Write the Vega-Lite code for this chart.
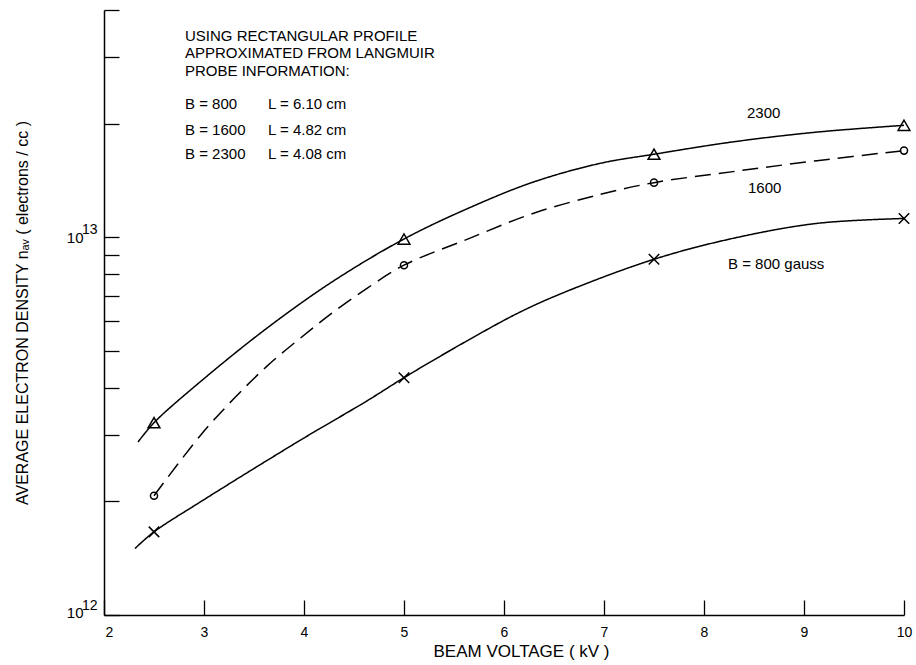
{
  "$schema": "https://vega.github.io/schema/vega-lite/v6.json",
  "width": 800,
  "height": 605,
  "autosize": {"type": "none"},
  "padding": {"left": 104, "top": 10, "right": 12, "bottom": 50},
  "background": "white",
  "config": {
    "view": {"stroke": null},
    "font": "Liberation Sans",
    "axis": {
      "grid": false,
      "domainColor": "black",
      "tickColor": "black",
      "labelColor": "black",
      "titleColor": "black",
      "labelFont": "Liberation Sans",
      "titleFont": "Liberation Sans",
      "titleFontWeight": "normal",
      "labelOverlap": false,
      "labelFlush": false
    }
  },
  "datasets": {
    "curves": [
      {"B": "800", "kV": 2.31, "density": 1.50e12},
      {"B": "800", "kV": 2.5, "density": 1.66e12},
      {"B": "800", "kV": 2.96, "density": 1.99e12},
      {"B": "800", "kV": 3.96, "density": 2.90e12},
      {"B": "800", "kV": 4.63, "density": 3.69e12},
      {"B": "800", "kV": 5.0, "density": 4.25e12},
      {"B": "800", "kV": 5.63, "density": 5.32e12},
      {"B": "800", "kV": 6.16, "density": 6.34e12},
      {"B": "800", "kV": 6.63, "density": 7.2e12},
      {"B": "800", "kV": 7.5, "density": 8.75e12},
      {"B": "800", "kV": 8.29, "density": 9.94e12},
      {"B": "800", "kV": 9.13, "density": 1.089e13},
      {"B": "800", "kV": 10, "density": 1.122e13},
      {"B": "1600", "kV": 2.5, "density": 2.07e12},
      {"B": "1600", "kV": 2.96, "density": 2.98e12},
      {"B": "1600", "kV": 3.29, "density": 3.72e12},
      {"B": "1600", "kV": 3.63, "density": 4.56e12},
      {"B": "1600", "kV": 3.96, "density": 5.40e12},
      {"B": "1600", "kV": 4.29, "density": 6.33e12},
      {"B": "1600", "kV": 4.63, "density": 7.33e12},
      {"B": "1600", "kV": 5.0, "density": 8.44e12},
      {"B": "1600", "kV": 5.63, "density": 9.88e12},
      {"B": "1600", "kV": 6.29, "density": 1.157e13},
      {"B": "1600", "kV": 6.96, "density": 1.299e13},
      {"B": "1600", "kV": 7.5, "density": 1.396e13},
      {"B": "1600", "kV": 8.29, "density": 1.493e13},
      {"B": "1600", "kV": 9.13, "density": 1.596e13},
      {"B": "1600", "kV": 10, "density": 1.697e13},
      {"B": "2300", "kV": 2.34, "density": 2.87e12},
      {"B": "2300", "kV": 2.5, "density": 3.23e12},
      {"B": "2300", "kV": 2.96, "density": 4.14e12},
      {"B": "2300", "kV": 3.63, "density": 5.75e12},
      {"B": "2300", "kV": 4.29, "density": 7.65e12},
      {"B": "2300", "kV": 5.0, "density": 9.9e12},
      {"B": "2300", "kV": 5.63, "density": 1.19e13},
      {"B": "2300", "kV": 6.29, "density": 1.40e13},
      {"B": "2300", "kV": 6.96, "density": 1.57e13},
      {"B": "2300", "kV": 7.5, "density": 1.66e13},
      {"B": "2300", "kV": 8.29, "density": 1.79e13},
      {"B": "2300", "kV": 9.13, "density": 1.90e13},
      {"B": "2300", "kV": 10, "density": 1.98e13}
    ],
    "points": [
      {"B": "800", "kV": 2.5, "density": 1.66e12},
      {"B": "800", "kV": 5.0, "density": 4.25e12},
      {"B": "800", "kV": 7.5, "density": 8.75e12},
      {"B": "800", "kV": 10, "density": 1.122e13},
      {"B": "1600", "kV": 2.5, "density": 2.07e12},
      {"B": "1600", "kV": 5.0, "density": 8.44e12},
      {"B": "1600", "kV": 7.5, "density": 1.396e13},
      {"B": "1600", "kV": 10, "density": 1.697e13},
      {"B": "2300", "kV": 2.5, "density": 3.23e12},
      {"B": "2300", "kV": 5.0, "density": 9.9e12},
      {"B": "2300", "kV": 7.5, "density": 1.66e13},
      {"B": "2300", "kV": 10, "density": 1.98e13}
    ],
    "notes": [
      {"kV": 2.81, "density": 3.41e13, "label": "USING RECTANGULAR PROFILE"},
      {"kV": 2.81, "density": 3.08e13, "label": "APPROXIMATED FROM LANGMUIR"},
      {"kV": 2.81, "density": 2.75e13, "label": "PROBE INFORMATION:"},
      {"kV": 2.81, "density": 2.25e13, "label": "B = 800"},
      {"kV": 3.64, "density": 2.25e13, "label": "L = 6.10 cm"},
      {"kV": 2.81, "density": 1.93e13, "label": "B = 1600"},
      {"kV": 3.64, "density": 1.93e13, "label": "L = 4.82 cm"},
      {"kV": 2.81, "density": 1.66e13, "label": "B = 2300"},
      {"kV": 3.64, "density": 1.66e13, "label": "L = 4.08 cm"},
      {"kV": 8.43, "density": 2.13e13, "label": "2300"},
      {"kV": 8.44, "density": 1.35e13, "label": "1600"},
      {"kV": 8.24, "density": 8.51e12, "label": "B = 800 gauss"}
    ]
  },
  "layer": [
    {
      "data": {"name": "curves"},
      "mark": {"type": "line", "interpolate": "catmull-rom", "color": "black", "strokeWidth": 1.5},
      "encoding": {
        "x": {
          "field": "kV",
          "type": "quantitative",
          "scale": {"domain": [2, 10], "nice": false},
          "axis": {
            "values": [2, 3, 4, 5, 6, 7, 8, 9, 10],
            "format": "d",
            "tickSize": -15,
            "tickWidth": 1.3,
            "domainWidth": 1.5,
            "labelFontSize": 14,
            "labelPadding": 25,
            "labelOffset": {"condition": {"test": "datum.value == 2", "value": 5}, "value": 0},
            "title": "BEAM VOLTAGE ( kV )",
            "titleFontSize": 17,
            "titlePadding": 4,
            "titleX": 417
          }
        },
        "y": {
          "field": "density",
          "type": "quantitative",
          "scale": {"type": "log", "domain": [1e12, 4e13], "nice": false},
          "axis": {
            "orient": "left",
            "values": [1e12, 2e12, 3e12, 4e12, 5e12, 6e12, 7e12, 8e12, 9e12, 1e13, 2e13, 3e13, 4e13],
            "tickSize": -15,
            "tickWidth": 1.3,
            "domainWidth": 1.5,
            "labelExpr": "datum.value == 1e12 || datum.value == 1e13 ? '10' : ''",
            "labelFontSize": 15,
            "labelPadding": 36,
            "labelBaseline": "middle",
            "labelAlign": "right",
            "labelOffset": {"condition": {"test": "datum.value == 1e12", "value": -3}, "value": 0},
            "title": "AVERAGE ELECTRON DENSITY nₐᵥ ( electrons / cc )",
            "titleFontSize": 16,
            "titlePadding": 36
          }
        },
        "strokeDash": {
          "field": "B",
          "type": "nominal",
          "scale": {"domain": ["800", "1600", "2300"], "range": [[1, 0], [16, 8], [1, 0]]},
          "legend": null
        }
      }
    },
    {
      "data": {"name": "points"},
      "mark": {"type": "point", "filled": false, "color": "black", "strokeWidth": 1.5, "opacity": 1},
      "encoding": {
        "x": {"field": "kV", "type": "quantitative"},
        "y": {
          "field": "density",
          "type": "quantitative",
          "axis": {
            "orient": "left",
            "values": [1e12, 1e13],
            "domain": false,
            "ticks": false,
            "labelExpr": "datum.value == 1e12 ? '12' : '13'",
            "labelFontSize": 14,
            "labelPadding": 7,
            "labelBaseline": "middle",
            "labelAlign": "right",
            "labelOffset": {"condition": {"test": "datum.value == 1e12", "value": -10}, "value": -8},
            "title": null
          }
        },
        "shape": {
          "field": "B",
          "type": "nominal",
          "scale": {"domain": ["800", "1600", "2300"], "range": ["M-1,-1L1,1M-1,1L1,-1", "circle", "triangle-up"]},
          "legend": null
        },
        "size": {
          "field": "B",
          "type": "nominal",
          "scale": {"type": "ordinal", "domain": ["800", "1600", "2300"], "range": [110, 50, 140]},
          "legend": null
        }
      }
    },
    {
      "data": {"name": "notes"},
      "mark": {"type": "text", "align": "left", "baseline": "middle", "fontSize": 15, "font": "Liberation Sans", "color": "black"},
      "encoding": {
        "x": {"field": "kV", "type": "quantitative"},
        "y": {"field": "density", "type": "quantitative", "axis": null},
        "text": {"field": "label"}
      }
    }
  ],
  "resolve": {"axis": {"y": "independent"}}
}
